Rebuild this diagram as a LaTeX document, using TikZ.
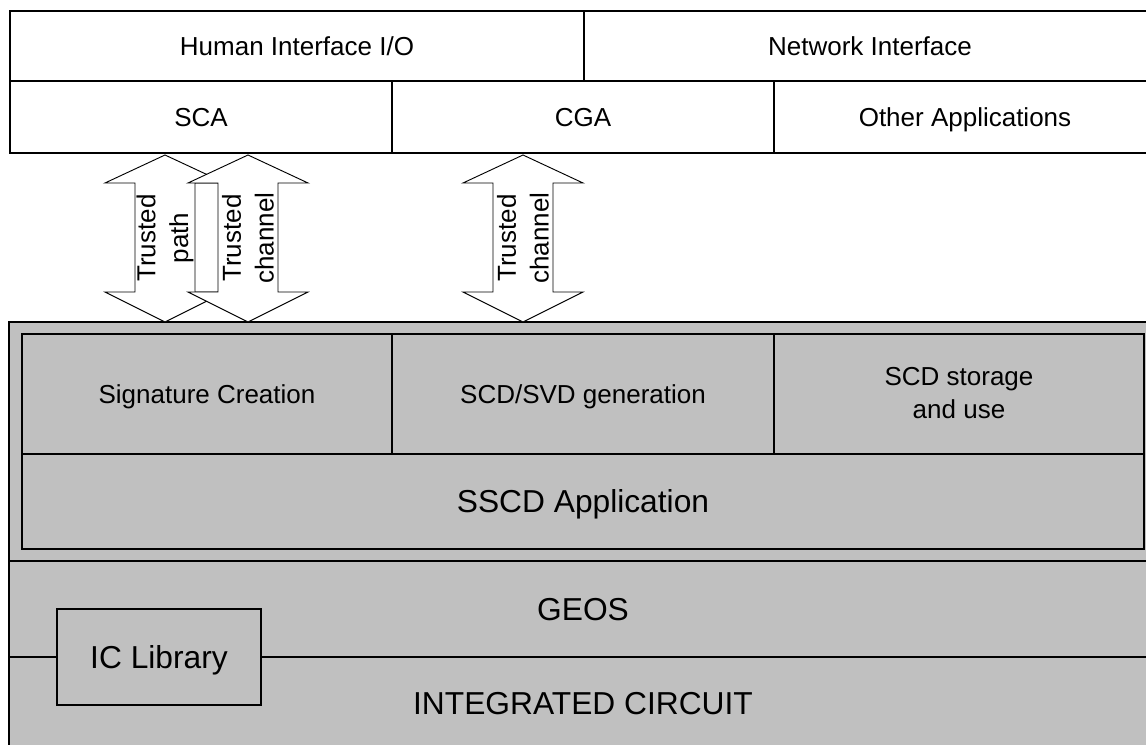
\documentclass[tikz,border=0pt]{standalone}
\usepackage{fontspec}
\setmainfont{Liberation Sans}
\usepackage{tikz}
\definecolor{layergray}{HTML}{C0C0C0}

\begin{document}
\begin{tikzpicture}[x=0.75pt,y=-0.75pt,
  small/.style={font=\fontsize{19.5}{24.5}\selectfont,inner sep=0pt,text height=14pt,text depth=0pt},
  smallpara/.style={font=\fontsize{19.5}{24.5}\selectfont,inner sep=0pt,align=center},
  big/.style={font=\fontsize{23.8}{28}\selectfont,inner sep=0pt,text height=17pt,text depth=0pt},
  thickrule/.style={line width=2.2pt},
  thinrule/.style={line width=0.9pt},
  trustarrow/.style={draw,fill=white,line width=0.7pt,line join=miter}]
  % Page
  \clip (0,0) rectangle (1146,745);
  \fill[white] (0,0) rectangle (1146,745);
  %
  % Lower layers (SSCD, GEOS, IC)
  \filldraw[fill=layergray,thinrule] (9,322) rectangle (1170,760);
  \draw[thickrule] (9,322) rectangle (1156,561);
  \draw[thinrule] (22,334) rectangle (1144,549);
  \draw[thinrule] (22,454) -- (1144,454);
  \draw[thinrule] (392,334) -- (392,454);
  \draw[thinrule] (774,334) -- (774,454);
  %
  \node[small] (sig) at (207,394) {Signature Creation};
  \node[small] (gen) at (583,394) {SCD/SVD generation};
  \node[smallpara] (sto) at (959,393) {SCD storage\\and use};
  \node[big] (app) at (583,501) {SSCD Application};
  \node[big] (geos) at (583,609) {GEOS};
  \node[big] (ic) at (583,703) {INTEGRATED CIRCUIT};
  %
  % IC library on the GEOS / IC border
  \node[big,draw,fill=layergray,thinrule,minimum width=153pt,minimum height=72pt]
    (lib) at (159,657) {IC Library};
  \coordinate (icleft) at (9,657);
  \coordinate (icright) at (1170,657);
  \draw[thinrule] (icleft) -- (lib.west);
  \draw[thinrule] (lib.east) -- (icright);
  %
  % Upper layers (interfaces, applications)
  \filldraw[fill=white,thickrule] (10,11) rectangle (1156,153);
  \draw[thickrule] (10,81) -- (1156,81);
  \draw[thickrule] (584,11) -- (584,81);
  \draw[thickrule] (392,81) -- (392,153);
  \draw[thickrule] (774,81) -- (774,153);
  %
  \node[small] (hio) at (297,46) {Human Interface I/O};
  \node[small] (net) at (870,46) {Network Interface};
  \node[small] (sca) at (201,117) {SCA};
  \node[small] (cga) at (583,117) {CGA};
  \node[small] (oth) at (965,117) {Other Applications};
  %
  % Trusted path / channels
  \foreach \cx/\lbl/\nm in {165/{Trusted\\path}/tpath,
                            248/{Trusted\\channel}/tchana,
                            523/{Trusted\\channel}/tchanb}{
    \draw[trustarrow] (\cx,155) -- (\cx+60,183) -- (\cx+30,183) -- (\cx+30,292)
      -- (\cx+60,292) -- (\cx,322) -- (\cx-60,292) -- (\cx-30,292)
      -- (\cx-30,183) -- (\cx-60,183) -- cycle;
    \node[smallpara,rotate=90] (\nm) at (\cx,238) {\lbl};
  }
  %
\end{tikzpicture}
\end{document}
